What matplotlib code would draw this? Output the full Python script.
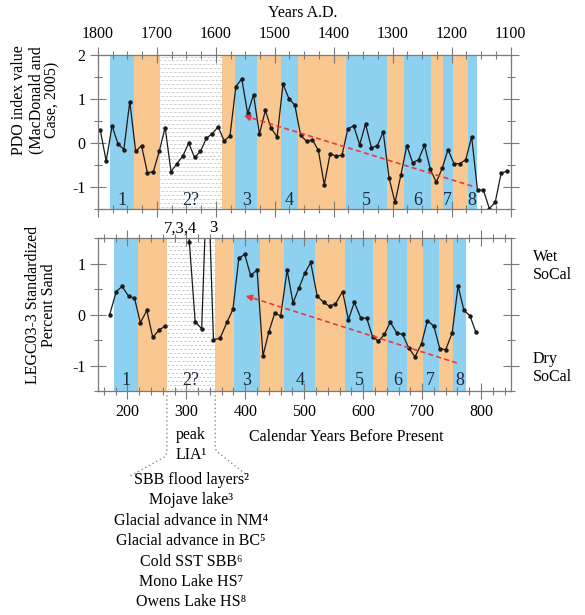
import matplotlib
matplotlib.use('Agg')
import matplotlib.pyplot as plt
from matplotlib.ticker import MultipleLocator
import numpy as np

plt.rcParams['font.family'] = ['Liberation Serif', 'DejaVu Serif']
plt.rcParams['font.size'] = 11.5
plt.rcParams['axes.unicode_minus'] = False

# ---------------- data ----------------
# PDO index (MacDonald and Case, 2005), years A.D.
pdo_years = [1796, 1786, 1776, 1766, 1756, 1746, 1736, 1726, 1716, 1706,
             1696, 1686, 1676, 1666, 1656, 1646, 1636, 1626, 1616, 1606,
             1596, 1586, 1576, 1566, 1556, 1546, 1536, 1526, 1516, 1506,
             1496, 1486, 1476, 1466, 1456, 1446, 1436, 1426, 1416, 1406,
             1396, 1386, 1376, 1366, 1356, 1346, 1336, 1326, 1316, 1306,
             1296, 1286, 1276, 1266, 1256, 1246, 1236, 1226, 1216, 1206,
             1196, 1186, 1176, 1166, 1156, 1146, 1136, 1126, 1116, 1106]
pdo_values = [0.29, -0.41, 0.39, -0.02, -0.15, 0.94, -0.19, -0.06, -0.68, -0.65,
              -0.19, 0.35, -0.65, -0.47, -0.30, 0.00, -0.33, -0.19, 0.11, 0.21,
              0.37, 0.05, 0.16, 1.28, 1.46, 0.67, 1.10, 0.20, 0.74, 0.33,
              0.14, 1.34, 1.01, 0.86, 0.17, 0.04, 0.07, -0.17, -0.95, -0.24,
              -0.30, -0.28, 0.32, 0.39, -0.04, 0.43, -0.11, -0.06, 0.25, -0.80,
              -1.35, -0.73, -0.06, -0.45, -0.38, -0.05, -0.60, -0.89, -0.58, -0.15,
              -0.47, -0.47, -0.38, 0.14, -1.07, -1.07, -1.49, -1.35, -0.69, -0.64]

# LEGC03-3 standardized percent sand, calendar years BP
sand_bp = [170, 181, 191, 202, 212, 222, 233, 243, 254, 264,
           274, 284, 294, 305, 315, 326, 336, 346, 357, 369,
           379, 389, 399, 409, 420, 430, 440, 450, 460, 471,
           481, 491, 501, 511, 522, 533, 543, 553, 565, 575,
           585, 596, 606, 616, 626, 636, 646, 657, 667, 677,
           688, 699, 709, 720, 730, 740, 751, 761, 771, 781, 791]
sand_values = [0.00, 0.45, 0.55, 0.36, 0.32, -0.16, 0.08, -0.45, -0.30, -0.23,
               7, 3, 4, 1.43, -0.14, -0.28, 3, -0.49, -0.47, -0.15,
               0.10, 1.10, 1.18, 0.77, 0.87, -0.81, -0.34, 0.03, -0.03, 0.87,
               0.23, 0.52, 0.81, 1.02, 0.36, 0.24, 0.16, 0.21, 0.45, -0.10,
               0.24, -0.07, -0.07, -0.44, -0.52, -0.39, -0.15, -0.36, -0.39, -0.65,
               -0.83, -0.57, -0.12, -0.23, -0.67, -0.69, -0.36, 0.56, 0.08, -0.02, -0.34]
sand_break = 10  # gap in the record before the off-scale values

# bands: (start, end, kind, label)
top_bands = [(1780, 1739, 'b', '1'), (1739, 1695, 'o', ''), (1695, 1589, 's', '2?'),
             (1589, 1567, 'o', ''), (1567, 1530, 'b', '3'), (1530, 1490, 'o', ''),
             (1490, 1460, 'b', '4'), (1460, 1379, 'o', ''), (1379, 1310, 'b', '5'),
             (1310, 1280, 'o', ''), (1280, 1235, 'b', '6'), (1235, 1215, 'o', ''),
             (1215, 1198, 'b', '7'), (1198, 1173, 'o', ''), (1173, 1157, 'b', '8')]
bot_bands = [(177, 218, 'b', '1'), (218, 267, 'o', ''), (267, 349, 's', '2?'),
             (349, 381, 'o', ''), (381, 425, 'b', '3'), (425, 466, 'o', ''),
             (466, 519, 'b', '4'), (519, 570, 'o', ''), (570, 616, 'b', '5'),
             (616, 641, 'o', ''), (641, 675, 'b', '6'), (675, 701, 'o', ''),
             (701, 728, 'b', '7'), (728, 753, 'o', ''), (753, 775, 'b', '8')]

top_xticks = [1800, 1700, 1600, 1500, 1400, 1300, 1200, 1100]
bot_xticks = [200, 300, 400, 500, 600, 700, 800]

legend_lines = ['SBB flood layers\u00b2', 'Mojave lake\u00b3', 'Glacial advance in NM\u2074',
                'Glacial advance in BC\u2075', 'Cold SST SBB\u2076', 'Mono Lake HS\u2077',
                'Owens Lake HS\u2078']

BLUE = '#8ed0ef'
ORANGE = '#f9c790'
RED = '#e8393c'
GRAY = '#7a7a7a'

fig = plt.figure(figsize=(5.85, 6.15), dpi=100)
ax1 = fig.add_axes([0.1674, 0.6602, 0.7053, 0.2504])
ax2 = fig.add_axes([0.1674, 0.3642, 0.7053, 0.2488])


def stipple(ax, x0, x1, y0, y1, step):
    ax.axvspan(x0, x1, color='white', zorder=0.5, lw=0)
    ys = np.arange(y0 + step / 2, y1, step)
    for i, y in enumerate(ys):
        off = 0 if i % 2 == 0 else 2.5
        ax.hlines(y, min(x0, x1), max(x0, x1), colors='#c8c8c8', lw=0.6,
                  linestyles=[(off, (3.2, 1.8))], zorder=0.6)


def draw_bands(ax, bands, ylo, yhi, step):
    for x0, x1, kind, lab in bands:
        if kind == 'b':
            ax.axvspan(x0, x1, color=BLUE, lw=0, zorder=0.4)
        elif kind == 'o':
            ax.axvspan(x0, x1, color=ORANGE, lw=0, zorder=0.4)
        else:
            stipple(ax, x0, x1, ylo, yhi, step)
        if lab:
            ax.text((x0 + x1) / 2, -1.3, lab, ha='center', va='center',
                    fontsize=13, color='#1c2a3a', zorder=3)


# ---------------- top panel ----------------
ax1.set_xlim(1800, 1100)
ax1.set_ylim(-1.5, 2)
draw_bands(ax1, top_bands, -1.5, 2, 0.09)
ax1.plot(pdo_years, pdo_values, color='#1a1a1a', lw=0.9, marker='o', ms=2.2, zorder=2)
ax1.plot([1165, 1545], [-0.98, 0.59], ls=(0, (3, 2)), color=RED, lw=1.2, zorder=2.5)
ax1.annotate('', xy=(1557, 0.64), xytext=(1540, 0.57),
             arrowprops=dict(arrowstyle='-|>', color=RED, lw=1.2, mutation_scale=9), zorder=2.5)

ax1.set_xticks(top_xticks)
ax1.xaxis.set_minor_locator(MultipleLocator(25))
ax1.xaxis.set_ticks_position('both')
ax1.tick_params(axis='x', which='both', labeltop=True, labelbottom=False)
ax1.set_yticks([-1, 0, 1, 2])
ax1.yaxis.set_minor_locator(MultipleLocator(0.5))

# ---------------- bottom panel ----------------
ax2.set_xlim(150, 850)
ax2.set_ylim(-1.5, 1.5)
draw_bands(ax2, bot_bands, -1.5, 1.5, 0.078)
ax2.plot(sand_bp[:sand_break], sand_values[:sand_break], color='#1a1a1a', lw=0.9,
         marker='o', ms=2.2, zorder=2)
ax2.plot(sand_bp[sand_break:], sand_values[sand_break:], color='#1a1a1a', lw=0.9,
         marker='o', ms=2.2, zorder=2)
ax2.plot([759, 408], [-0.95, 0.34], ls=(0, (3, 2)), color=RED, lw=1.2, zorder=2.5)
ax2.annotate('', xy=(396, 0.38), xytext=(412, 0.325),
             arrowprops=dict(arrowstyle='-|>', color=RED, lw=1.2, mutation_scale=9), zorder=2.5)

ax2.text(290, 1.53, '7,3,4', ha='center', va='bottom', fontsize=12)
ax2.text(345, 1.53, '3', ha='center', va='bottom', fontsize=12)

ax2.set_xticks(bot_xticks)
ax2.xaxis.set_minor_locator(MultipleLocator(20))
ax2.xaxis.set_ticks_position('both')
ax2.tick_params(axis='x', which='both', labeltop=False, labelbottom=True)
ax2.set_yticks([-1, 0, 1])
ax2.yaxis.set_minor_locator(MultipleLocator(0.5))

for ax in (ax1, ax2):
    ax.yaxis.set_ticks_position('both')
    ax.tick_params(axis='y', which='both', labelleft=True, labelright=False)
    ax.tick_params(which='major', direction='inout', length=12, width=0.8, color=GRAY, pad=3)
    ax.tick_params(which='minor', direction='inout', length=6, width=0.8, color=GRAY)
    ax.tick_params(labelsize=11.5)
    for sp in ax.spines.values():
        sp.set_color(GRAY)
        sp.set_linewidth(0.9)

# dotted connectors under the LIA band
dot = dict(color='#8a8a8a', lw=1.0, ls=(0, (1, 2)), clip_on=False, zorder=1)
ax2.plot([267, 267, 265, 204], [-1.5, -2.65, -2.78, -3.17], **dot)
ax2.plot([349, 349, 351, 403], [-1.5, -2.62, -2.68, -3.15], **dot)

# ---------------- texts ----------------
fig.text(303 / 585, 1 - 13 / 615, 'Years A.D.', ha='center', va='center', fontsize=11.5)
fig.text(36 / 585, 1 - 100 / 615, 'PDO index value\n(MacDonald and\nCase, 2005)',
         rotation=90, ha='center', va='center', multialignment='center', linespacing=1.05)
fig.text(41 / 585, 1 - 305 / 615, 'LEGC03-3 Standardized\nPercent Sand',
         rotation=90, ha='center', va='center', multialignment='center', linespacing=1.05)
fig.text(533 / 585, 1 - 266 / 615, 'Wet\nSoCal', ha='left', va='center', linespacing=1.15)
fig.text(533 / 585, 1 - 368 / 615, 'Dry\nSoCal', ha='left', va='center', linespacing=1.15)
fig.text(346 / 585, 1 - 437 / 615, 'Calendar Years Before Present', ha='center', va='center')
fig.text(191 / 585, 1 - 435 / 615, 'peak', ha='center', va='center')
fig.text(191 / 585, 1 - 455 / 615, 'LIA\u00b9', ha='center', va='center')
for i, s in enumerate(legend_lines):
    fig.text(191 / 585, 1 - (480 + 20.4 * i) / 615, s, ha='center', va='center')

fig.savefig('out.png', dpi=100)
